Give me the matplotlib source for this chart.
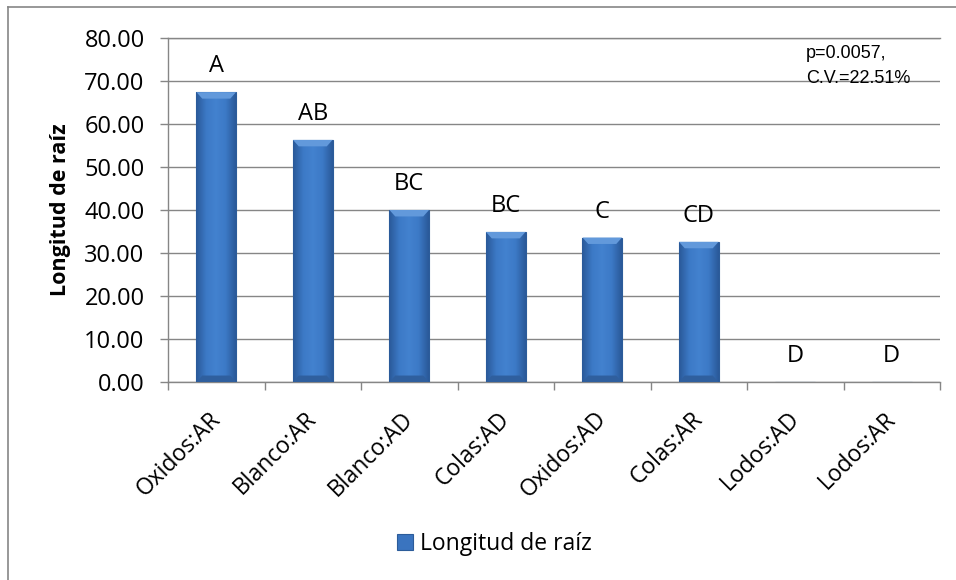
import numpy as np
import matplotlib
matplotlib.use("Agg")
import matplotlib.pyplot as plt
from matplotlib.colors import LinearSegmentedColormap
from matplotlib.lines import Line2D
from matplotlib.patches import Patch, Polygon
from matplotlib import transforms

# Data
categories = ["Oxidos:AR", "Blanco:AR", "Blanco:AD", "Colas:AD",
              "Oxidos:AD", "Colas:AR", "Lodos:AD", "Lodos:AR"]
longitud = [67.4, 56.3, 40.0, 34.9, 33.6, 32.6, 0.0, 0.0]
grupos = ["A", "AB", "BC", "BC", "C", "CD", "D", "D"]
stats_lines = ["p=0.0057,", "C.V.=22.51%"]
y_ticks = [0, 10, 20, 30, 40, 50, 60, 70, 80]

W, H = 956, 580
GRID = "#868686"
FONT = "Open Sans"
plt.rcParams["font.family"] = [FONT, "DejaVu Sans"]

fig = plt.figure(figsize=(W / 100, H / 100), dpi=100)
ax = fig.add_axes([168 / W, 1 - 382 / H, (940 - 168) / W, (382 - 38) / H])

x = np.arange(len(categories))
bar_w = 0.41
bars = ax.bar(x, longitud, width=bar_w, color="#3A74BF",
              edgecolor="#2C5C9A", linewidth=0.8, zorder=3)

ax.set_xlim(-0.5, len(categories) - 0.5)
ax.set_ylim(0, 80)

# horizontal shading on each bar: darker at the sides, lighter in the middle
shade = LinearSegmentedColormap.from_list(
    "shade", ["#2A5999", "#3C79C6", "#4382CF", "#3C79C6", "#2A5999"])
grad = np.linspace(0, 1, 64).reshape(1, -1)
bevel_y = 1.5      # bevel depth in data units
bevel_x = 0.06     # bevel inset in category units
for rect, v in zip(bars, longitud):
    if v <= 0:
        continue
    x0 = rect.get_x()
    x1 = x0 + rect.get_width()
    im = ax.imshow(grad, extent=[x0, x1, 0, v], aspect="auto", cmap=shade,
                   zorder=3.5, interpolation="bicubic")
    im.set_clip_path(rect)
    # light bevel along the top edge
    ax.add_patch(Polygon([[x0, v], [x1, v], [x1 - bevel_x, v - bevel_y],
                          [x0 + bevel_x, v - bevel_y]], closed=True,
                         facecolor="#6299DB", edgecolor="none", zorder=3.6))
    # darker bevel along the bottom edge
    ax.add_patch(Polygon([[x0, 0], [x1, 0], [x1 - bevel_x, bevel_y],
                          [x0 + bevel_x, bevel_y]], closed=True,
                         facecolor="#2F5F9E", edgecolor="none", zorder=3.6))

ax.set_xlim(-0.5, len(categories) - 0.5)
ax.set_ylim(0, 80)

# group letters above each bar
for xi, v, g in zip(x, longitud, grupos):
    ax.annotate(g, (xi, v), xytext=(0, 18.5), textcoords="offset points",
                ha="center", va="center", fontsize=17, color="black")

# axes styling
ax.set_yticks(y_ticks)
ax.set_yticklabels([f"{t:.2f}" for t in y_ticks])
ax.yaxis.grid(True, color=GRID, linewidth=1.0, zorder=0)
ax.set_axisbelow(True)
ax.spines["right"].set_visible(False)
for side in ("left", "bottom", "top"):
    ax.spines[side].set_color(GRID)
    ax.spines[side].set_linewidth(1.0)
ax.tick_params(axis="y", direction="out", length=5.8, width=1.0,
               color=GRID, pad=11, labelsize=17)

ax.set_xticks(x)
ax.set_xticklabels(categories, rotation=45, ha="right",
                   rotation_mode="anchor", fontsize=16.5)
ax.set_xticks(np.arange(-0.5, len(categories), 1.0), minor=True)
ax.tick_params(axis="x", which="major", length=0, pad=18)
ax.tick_params(axis="x", which="minor", direction="out", length=5.8,
               width=1.0, color=GRID)
for lbl in ax.get_xticklabels():
    lbl.set_transform(lbl.get_transform() +
                      transforms.ScaledTranslation(-0.08, 0, fig.dpi_scale_trans))

ax.set_ylabel("Longitud de raíz", fontsize=15.5, fontweight="bold")
ax.yaxis.set_label_coords(-(168 - 71) / (940 - 168), 0.5)

# statistics note
fig.text(806 / W, 1 - 58 / H, stats_lines[0], fontsize=13,
         family="Liberation Sans", va="baseline", ha="left")
fig.text(806 / W, 1 - 83 / H, stats_lines[1], fontsize=13,
         family="Liberation Sans", va="baseline", ha="left")

# legend
handle = Patch(facecolor="#3A74BF", edgecolor="#2C5C9A", linewidth=0.8)
fig.legend([handle], ["Longitud de raíz"], loc="center",
           bbox_to_anchor=(494 / W, 1 - 544 / H), frameon=False,
           fontsize=16.5, handlelength=0.7, handleheight=0.7,
           handletextpad=0.3)

# chart frame
fig.add_artist(Line2D([8 / W, 8 / W], [0, 1 - 7 / H], transform=fig.transFigure,
                      color=GRID, linewidth=1.2))
fig.add_artist(Line2D([8 / W, 1], [1 - 7 / H, 1 - 7 / H], transform=fig.transFigure,
                      color=GRID, linewidth=1.2))

fig.savefig("out.png", dpi=100, facecolor="white")
